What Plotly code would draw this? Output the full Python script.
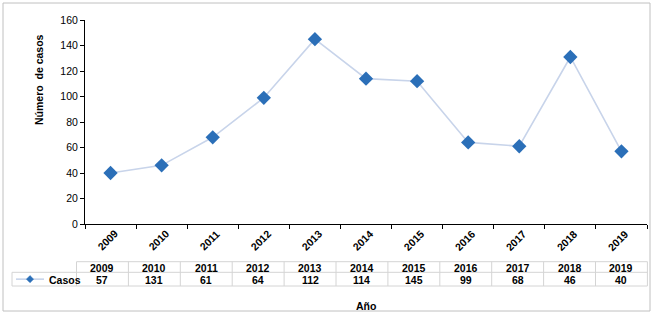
import plotly.graph_objects as go

years = ["2009", "2010", "2011", "2012", "2013", "2014", "2015", "2016", "2017", "2018", "2019"]
casos = [40, 46, 68, 99, 145, 114, 112, 64, 61, 131, 57]
# values as printed in the data table under the chart
tabla_casos = [57, 131, 61, 64, 112, 114, 145, 99, 68, 46, 40]
y_ticks = [0, 20, 40, 60, 80, 100, 120, 140, 160]
serie = "Casos"

FONT = "Liberation Sans, Arial, sans-serif"
W, H = 654, 315
L, R, T, B = 85, 7, 20, 91
PW, PH = W - L - R, H - T - B
LINE_COLOR = "#c8d4ea"
MARK_COLOR = "#2b6fb8"


def px(x):
    return (x - L) / PW


def py(y):
    return (H - B - y) / PH


fig = go.Figure()
fig.add_trace(go.Scatter(
    x=years, y=casos, mode="lines+markers", name=serie, showlegend=False,
    line=dict(color=LINE_COLOR, width=1.6),
    marker=dict(symbol="diamond", size=11, color=MARK_COLOR),
))

shapes = []
annotations = []
grid = "#d4d4d4"

# outer chart border
shapes.append(dict(type="rect", xref="paper", yref="paper",
                   x0=px(3), x1=px(650), y0=py(3), y1=py(311),
                   line=dict(color="#c0c0c0", width=1)))

# data table
col0, colw = 76.5, 51.9
r0, r1, r2 = 261.7, 272.3, 286
n = len(years)
tx1 = col0 + colw * n
shapes.append(dict(type="line", xref="paper", yref="paper",
                   x0=px(col0), x1=px(tx1), y0=py(r0), y1=py(r0), line=dict(color=grid, width=1)))
shapes.append(dict(type="line", xref="paper", yref="paper",
                   x0=px(12), x1=px(tx1), y0=py(r1), y1=py(r1), line=dict(color=grid, width=1)))
shapes.append(dict(type="line", xref="paper", yref="paper",
                   x0=px(12), x1=px(tx1), y0=py(r2), y1=py(r2), line=dict(color=grid, width=1)))
shapes.append(dict(type="line", xref="paper", yref="paper",
                   x0=px(12), x1=px(12), y0=py(r1), y1=py(r2), line=dict(color=grid, width=1)))
for i in range(n + 1):
    xx = col0 + colw * i
    shapes.append(dict(type="line", xref="paper", yref="paper",
                       x0=px(xx), x1=px(xx), y0=py(r0), y1=py(r2), line=dict(color=grid, width=1)))

tfont = dict(size=10.5, color="black", family=FONT)


def label(x, y, text, **kw):
    d = dict(x=x, y=y, xref="paper", yref="paper", text=text, showarrow=False,
             xanchor="center", yanchor="middle", font=tfont)
    d.update(kw)
    annotations.append(d)


for i, (yr, v) in enumerate(zip(years, tabla_casos)):
    cx = col0 + colw * (i + 0.5)
    label(px(cx), py((r0 + r1) / 2 + 0.5), "<b>%s</b>" % yr)
    label(px(cx), py((r1 + r2) / 2 + 0.5), "<b>%s</b>" % v)

# legend key inside the table
ky = (r1 + r2) / 2
shapes.append(dict(type="line", xref="paper", yref="paper",
                   x0=px(16), x1=px(44), y0=py(ky), y1=py(ky),
                   line=dict(color=LINE_COLOR, width=1.6)))
d = 3.6
shapes.append(dict(type="path", xref="paper", yref="paper",
                   path="M %f,%f L %f,%f L %f,%f L %f,%f Z" % (
                       px(30 - d), py(ky), px(30), py(ky - d), px(30 + d), py(ky), px(30), py(ky + d)),
                   fillcolor=MARK_COLOR, line=dict(color=MARK_COLOR, width=0.5)))
label(px(47), py(ky + 0.5), "<b>%s</b>" % serie, xanchor="left")

# rotated category labels
for i, yr in enumerate(years):
    annotations.append(dict(x=i, y=py(240), xref="x", yref="paper", text="<b>%s</b>" % yr,
                            textangle=-45, showarrow=False, xshift=-3,
                            xanchor="center", yanchor="middle", font=tfont))

# axis titles
label(px(39), py(80), "<b>Número  de casos</b>", textangle=-90)
label(px(366), py(306), "<b>Año</b>")

fig.update_layout(
    width=W, height=H,
    margin=dict(l=L, r=R, t=T, b=B, autoexpand=False),
    paper_bgcolor="white", plot_bgcolor="white",
    font=dict(family=FONT, size=10.5, color="black"),
    showlegend=False,
    shapes=shapes,
    annotations=annotations,
)
fig.update_xaxes(type="category", range=[-0.5, len(years) - 0.5], showline=True,
                 linecolor="black", linewidth=1,
                 ticks="outside", tickson="boundaries", ticklen=4, tickcolor="black",
                 showticklabels=False, showgrid=False, zeroline=False)
fig.update_yaxes(range=[0, 160], tickvals=y_ticks, showline=True, linecolor="black", linewidth=1,
                 ticks="outside", ticklen=4, tickcolor="black", showgrid=False, zeroline=False,
                 tickprefix="<b>", ticksuffix="</b>", tickfont=tfont)

fig.write_html("out.html", config={"displayModeBar": False},
               post_script="document.body.style.margin='0px';")
